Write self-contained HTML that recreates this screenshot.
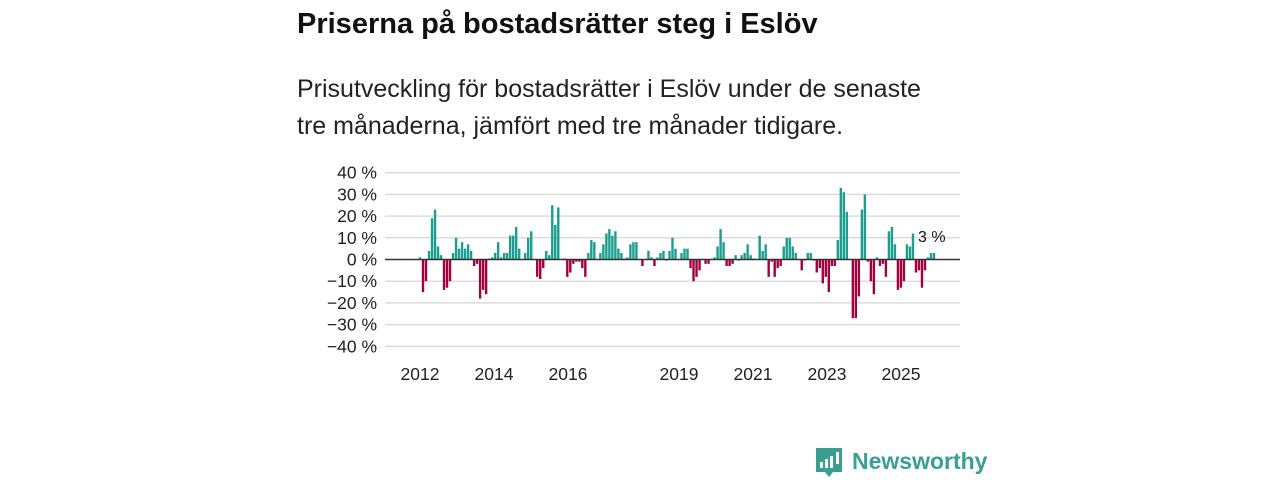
<!DOCTYPE html>
<html><head><meta charset="utf-8">
<style>
body{margin:0;width:1280px;height:480px;background:#fff;overflow:hidden;font-family:"Liberation Sans",sans-serif;color:#111;}
#title{position:absolute;left:297px;top:8px;font-size:29px;font-weight:bold;margin:0;}
#sub{position:absolute;left:297px;top:71px;font-size:25px;line-height:37px;width:640px;color:#222;}
svg{position:absolute;left:0;top:0;}
</style></head><body>
<h1 id="title">Priserna på bostadsrätter steg i Eslöv</h1>
<div id="sub">Prisutveckling för bostadsrätter i Eslöv under de senaste tre månaderna, jämfört med tre månader tidigare.</div>
<svg id="chart" width="1280" height="480"></svg>
<script>
const yTicks=[40,30,20,10,0,-10,-20,-30,-40];
const xTickLabels=["2012","2014","2016","2019","2021","2023","2025"];
const xTickYears=[2012,2014,2016,2019,2021,2023,2025];
const startYear=2012;
const values=[1,-15,-10,4,19,23,6,2,-14,-13,-10,3,10,5,8,5,7,4,-3,-2,-18,-14,-16,0.5,1,3,8,1,3,3,11,11,15,5,0,3,10,13,0,-8,-9,-4,4,2,25,16,24,0,0.5,-8,-6,-2,-1,-1,-4,-8,3,9,8,0,3,7,12,14,11,13,5,3,0.5,1,7,8,8,0,-3,0,4,1,-3,1,3,4,-0.5,4,10,5,0,3,5,5,-4,-10,-8,-5,0,-2,-2,0,1,6,14,8,-3,-3,-2,2,-0.5,2,3,7,2,0.5,0,11,4,7,-8,-1,-8,-4,-3,6,10,10,6,3,0,-5,-0.5,3,3,-0.5,-6,-4,-11,-8,-15,-3,-3,9,33,31,22,0,-27,-27,-17,23,30,-1,-10,-16,1,-3,-2,-8,13,15,7,-14,-13,-10,7,6,12,-6,-5,-13,-5,1,3,3];
const lastLabel="3 %";
const svg=document.getElementById('chart');
const NS="http://www.w3.org/2000/svg";
const y0=259.5,pxPerPct=2.17;
function yS(v){return y0-v*pxPerPct;}
const x0=420,pxPerYear=37,xLast=934;
function xMonth(i){return x0+i*(xLast-x0)/(values.length-1);}
function xYear(yr){return x0+(yr-startYear)*pxPerYear;}
function mk(tag,attrs){const e=document.createElementNS(NS,tag);for(const k in attrs)e.setAttribute(k,attrs[k]);svg.appendChild(e);return e;}
yTicks.forEach(t=>{
  if(t!==0){const g=mk('line',{x1:385,x2:960,y1:yS(t),y2:yS(t),stroke:'#dcdcdc','stroke-width':1.5});
  
  }
  const l=mk('text',{x:377,y:yS(t)+6,'text-anchor':'end','font-size':17.5,fill:'#222','font-family':'Liberation Sans, sans-serif'});
  l.textContent=(t<0?'−'+(-t):t)+' %';
  
  
});
values.forEach((v,i)=>{
  const x=xMonth(i);
  const r=mk('rect',{x:x-1.2,width:2.4,y:Math.min(yS(v),y0),height:Math.abs(yS(v)-y0),fill:v>=0?'#1a9e8f':'#a3003e'});
  
  
});
const zl=mk('line',{x1:385,x2:960,y1:y0,y2:y0,stroke:'#333','stroke-width':1.5});


xTickLabels.forEach((lab,k)=>{
  const x=xYear(xTickYears[k]);
  const t=mk('text',{x:x,y:380,'text-anchor':'middle','font-size':17.5,fill:'#222','font-family':'Liberation Sans, sans-serif'});
  t.textContent=lab;
  
  
});
const ll=mk('text',{x:918,y:242,'font-size':16,fill:'#111','font-family':'Liberation Sans, sans-serif'});
ll.textContent=lastLabel;


const lg=mk('g',{});


const ic=document.createElementNS(NS,'path');
ic.setAttribute('d','M816 448h26v24h-9l-4 5l-4-5h-9z');
ic.setAttribute('fill','#3a9e93');
lg.appendChild(ic);
[[820,462,3,6],[825,459,3,9],[830,456,3,12],[836,452,3,12]].forEach(b=>{const r=document.createElementNS(NS,'rect');r.setAttribute('x',b[0]);r.setAttribute('y',b[1]);r.setAttribute('width',b[2]);r.setAttribute('height',b[3]);r.setAttribute('fill','#fff');lg.appendChild(r);});
const lt=document.createElementNS(NS,'text');
lt.setAttribute('x',852);lt.setAttribute('y',469);lt.setAttribute('font-size',23);lt.setAttribute('font-weight','bold');lt.setAttribute('fill','#3a9e93');lt.setAttribute('font-family','Liberation Sans, sans-serif');
lt.textContent='Newsworthy';
lg.appendChild(lt);
</script>
</body></html>
